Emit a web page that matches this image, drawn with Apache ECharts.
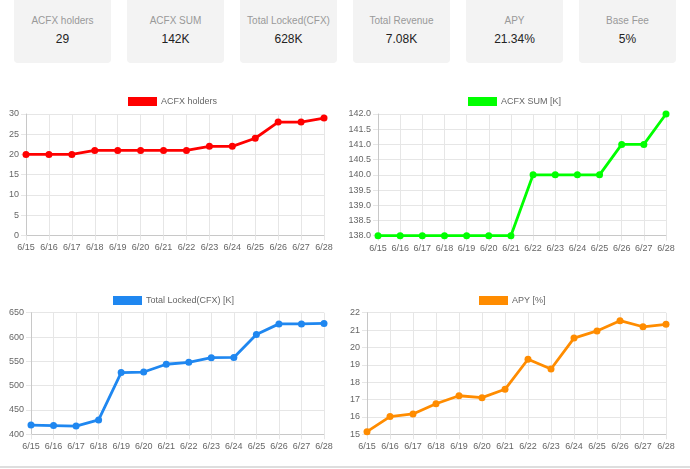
<!DOCTYPE html>
<html>
<head>
<meta charset="utf-8">
<script src="https://cdn.jsdelivr.net/npm/echarts@6/dist/echarts.min.js"></script>
<style>
html,body{margin:0;padding:0;background:#fff;width:690px;height:469px;overflow:hidden;font-family:"Liberation Sans",Arial,sans-serif;}
#chart{position:absolute;left:0;top:0;width:690px;height:469px;}
.card{position:absolute;top:-6px;width:97px;height:69px;background:#f3f3f3;border-radius:4px;text-align:center;}
.card .lbl{position:absolute;left:0;right:0;top:20px;font-size:10px;color:#999;line-height:14px;}
.card .val{position:absolute;left:0;right:0;top:38px;font-size:12px;color:#222;line-height:14px;}
</style>
</head>
<body>
<div id="cards"></div>
<div id="chart"></div>
<script>
var cardLabels = ["ACFX holders", "ACFX SUM", "Total Locked(CFX)", "Total Revenue", "APY", "Base Fee"];
var cardValues = ["29", "142K", "628K", "7.08K", "21.34%", "5%"];

var dates = ["6/15","6/16","6/17","6/18","6/19","6/20","6/21","6/22","6/23","6/24","6/25","6/26","6/27","6/28"];
var holders = [20,20,20,21,21,21,21,21,22,22,24,28,28,29];
var acfxSum = [138,138,138,138,138,138,138,140,140,140,140,141,141,142];
var totalLocked = [419,418,417,429.5,527,528,544,548,557.5,558,605,627,627,628];
var apy = [15.15,16.02,16.17,16.76,17.22,17.11,17.59,19.32,18.76,20.54,20.95,21.54,21.19,21.33];

var names = ["ACFX holders", "ACFX SUM [K]", "Total Locked(CFX) [K]", "APY [%]"];

var cardsEl = document.getElementById('cards');
for (var i = 0; i < cardLabels.length; i++) {
  var d = document.createElement('div');
  d.className = 'card';
  d.style.left = (14 + i * 113) + 'px';
  d.innerHTML = '<div class="lbl"></div><div class="val"></div>';
  d.querySelector('.lbl').textContent = cardLabels[i];
  d.querySelector('.val').textContent = cardValues[i];
  cardsEl.appendChild(d);
}

var chart = echarts.init(document.getElementById('chart'), null, {renderer:'canvas'});
var FONT = '"Liberation Sans", Arial, sans-serif';
var grids = [
  {left:26, right:366, top:114, height:121.3},
  {left:378, right:24, top:114, height:121.7},
  {left:31, right:366, top:312.7, height:121.6},
  {left:367, right:24, top:312.7, height:121.6}
];
var yCfg = [
  {min:0, max:30, interval:5, fmt:function(v){return String(v);}},
  {min:138, max:142, interval:0.5, fmt:function(v){return v.toFixed(1);}},
  {min:400, max:650, interval:50, fmt:function(v){return String(v);}},
  {min:15, max:22, interval:1, fmt:function(v){return String(v);}}
];
var colors = ["#ff0000", "#00ff00", "#1f87f0", "#ff8c00"];
var datas = [holders, acfxSum, totalLocked, apy];
var legendPos = [{left:128, top:97}, {left:468, top:97}, {left:113, top:296}, {left:479, top:296}];

var xAxes = [], yAxes = [], series = [], legends = [];
for (var k = 0; k < 4; k++) {
  xAxes.push({
    type:'category', gridIndex:k, data:dates, boundaryGap:false,
    axisLine:{show:true, lineStyle:{color:'#c8c8c8', width:1}},
    axisTick:{show:true, length:5, lineStyle:{color:'#e6e6e6'}},
    splitLine:{show:true, lineStyle:{color:'#e6e6e6', width:1}},
    axisLabel:{color:'#666', fontSize:9, fontFamily:FONT, margin:8, interval:0}
  });
  yAxes.push({
    type:'value', gridIndex:k, min:yCfg[k].min, max:yCfg[k].max, interval:yCfg[k].interval,
    axisLine:{show:true, lineStyle:{color:'#c8c8c8', width:1}},
    axisTick:{show:true, length:5, lineStyle:{color:'#e6e6e6'}},
    splitLine:{show:true, lineStyle:{color:'#e6e6e6', width:1}},
    axisLabel:{color:'#666', fontSize:9, fontFamily:FONT, margin:7, formatter:yCfg[k].fmt}
  });
  series.push({
    type:'line', name:names[k], xAxisIndex:k, yAxisIndex:k, data:datas[k],
    color:colors[k], symbol:'circle', symbolSize:7, showSymbol:true,
    lineStyle:{width:2.8, color:colors[k]}, itemStyle:{color:colors[k]},
    animation:false, silent:true
  });
  legends.push({
    data:[names[k]], left:legendPos[k].left, top:legendPos[k].top,
    icon:'rect', itemWidth:29, itemHeight:9, itemGap:4, padding:0,
    textStyle:{color:'#666', fontSize:9, fontFamily:FONT, padding:[0,0,0,-1]},
    selectedMode:false
  });
}

chart.setOption({
  animation:false,
  grid:grids,
  xAxis:xAxes,
  yAxis:yAxes,
  series:series,
  legend:legends,
  graphic:[{type:'rect', left:0, top:466, shape:{width:690, height:2}, style:{fill:'#dedede'}, silent:true}]
});
</script>
</body>
</html>
